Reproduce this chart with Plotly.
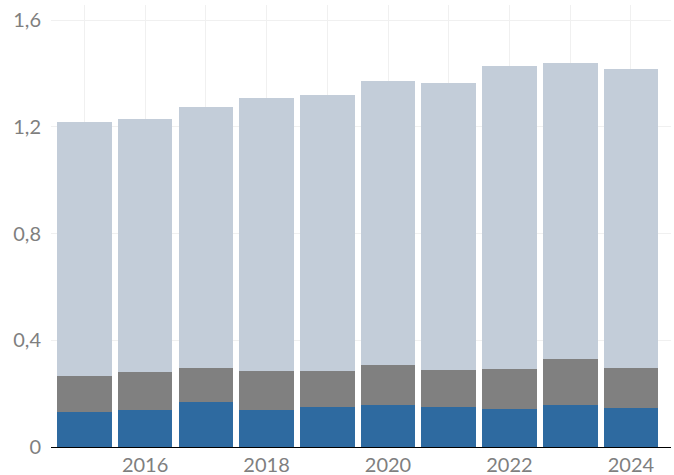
import plotly.graph_objects as go

years = [2015, 2016, 2017, 2018, 2019, 2020, 2021, 2022, 2023, 2024]
blue_top = [0.131, 0.139, 0.169, 0.139, 0.150, 0.157, 0.150, 0.142, 0.157, 0.146]
gray_top = [0.266, 0.281, 0.296, 0.285, 0.285, 0.307, 0.289, 0.292, 0.330, 0.296]
total = [1.219, 1.230, 1.275, 1.309, 1.320, 1.372, 1.365, 1.429, 1.440, 1.417]

blue = blue_top
gray = [g - b for g, b in zip(gray_top, blue_top)]
light = [t - g for t, g in zip(total, gray_top)]

x_ticks = [2016, 2018, 2020, 2022, 2024]
y_ticks = [0, 0.4, 0.8, 1.2, 1.6]

fig = go.Figure()
fig.add_bar(x=years, y=blue, marker=dict(color="#2e6aa0", line=dict(width=0)), name="a")
fig.add_bar(x=years, y=gray, marker=dict(color="#808080", line=dict(width=0)), name="b")
fig.add_bar(x=years, y=light, marker=dict(color="#c3cdd9", line=dict(width=0)), name="c")

fig.update_layout(
    barmode="stack",
    bargap=0.1,
    width=674, height=475,
    margin=dict(l=51, r=3, t=5, b=28),
    plot_bgcolor="white", paper_bgcolor="white",
    showlegend=False,
    separators=",.",
    font=dict(family="Lato", size=20, color="#7f7f7f"),
    xaxis=dict(
        range=[2014.45, 2024.66],
        tickvals=x_ticks,
        showgrid=False,
        showline=True, linecolor="#000000", linewidth=1,
        ticks="", ticklen=0,
        zeroline=False,
        automargin=False,
    ),
    yaxis=dict(
        range=[0, 1.657],
        tickvals=y_ticks,
        showgrid=True, gridcolor="#f0f0f0", gridwidth=1,
        zeroline=False,
        ticks="", ticklen=0,
        ticklabelstandoff=9,
        automargin=False,
    ),
)

# vertical gridlines at every year, drawn via an overlaid x-axis
fig.update_layout(
    xaxis2=dict(
        overlaying="x", matches="x", range=[2014.45, 2024.66],
        tickvals=years, showticklabels=False, showgrid=True,
        gridcolor="#f0f0f0", gridwidth=1, zeroline=False, ticks="",
        automargin=False,
    )
)
fig.add_scatter(x=[years[0]], y=[0], xaxis="x2", mode="markers",
                marker=dict(opacity=0), hoverinfo="skip", showlegend=False)

fig.write_html("out.html", config={"displayModeBar": False},
               post_script="document.body.style.margin='0';")
